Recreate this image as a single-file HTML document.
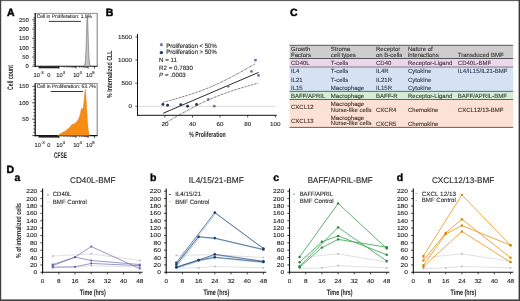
<!DOCTYPE html>
<html><head><meta charset="utf-8"><style>
html,body{margin:0;padding:0;background:#fff;}
body{width:520px;height:301px;overflow:hidden;}
svg{display:block;font-family:"Liberation Sans", sans-serif;will-change:transform;text-rendering:geometricPrecision;}
</style></head><body>
<svg width="520" height="301" viewBox="0 0 520 301">
<rect width="520" height="301" fill="#fff"/>
<text x="6.90" y="15.80" font-size="10.5" fill="#000" font-weight="bold" style="stroke:#000;stroke-width:0.45">A</text>
<text x="105.70" y="15.80" font-size="10.5" fill="#000" font-weight="bold" style="stroke:#000;stroke-width:0.45">B</text>
<text x="289.90" y="15.70" font-size="10.5" fill="#000" font-weight="bold" style="stroke:#000;stroke-width:0.45">C</text>
<text x="6.60" y="172.90" font-size="10.5" fill="#000" font-weight="bold" style="stroke:#000;stroke-width:0.45">D</text>
<line x1="35.20" y1="13.40" x2="97.20" y2="13.40" stroke="#444" stroke-width="0.6" />
<line x1="97.20" y1="13.40" x2="97.20" y2="66.30" stroke="#444" stroke-width="0.7" />
<line x1="35.20" y1="13.10" x2="35.20" y2="66.90" stroke="#111" stroke-width="1.3" />
<line x1="34.60" y1="66.30" x2="97.50" y2="66.30" stroke="#111" stroke-width="1.1" />
<line x1="32.20" y1="66.30" x2="35.20" y2="66.30" stroke="#2a2a2a" stroke-width="0.8" />
<line x1="33.20" y1="64.44" x2="35.20" y2="64.44" stroke="#2a2a2a" stroke-width="0.7" />
<line x1="33.20" y1="62.58" x2="35.20" y2="62.58" stroke="#2a2a2a" stroke-width="0.7" />
<line x1="33.20" y1="60.72" x2="35.20" y2="60.72" stroke="#2a2a2a" stroke-width="0.7" />
<line x1="33.20" y1="58.86" x2="35.20" y2="58.86" stroke="#2a2a2a" stroke-width="0.7" />
<line x1="32.20" y1="57.00" x2="35.20" y2="57.00" stroke="#2a2a2a" stroke-width="0.8" />
<line x1="33.20" y1="55.14" x2="35.20" y2="55.14" stroke="#2a2a2a" stroke-width="0.7" />
<line x1="33.20" y1="53.28" x2="35.20" y2="53.28" stroke="#2a2a2a" stroke-width="0.7" />
<line x1="33.20" y1="51.42" x2="35.20" y2="51.42" stroke="#2a2a2a" stroke-width="0.7" />
<line x1="33.20" y1="49.56" x2="35.20" y2="49.56" stroke="#2a2a2a" stroke-width="0.7" />
<line x1="32.20" y1="47.70" x2="35.20" y2="47.70" stroke="#2a2a2a" stroke-width="0.8" />
<line x1="33.20" y1="45.84" x2="35.20" y2="45.84" stroke="#2a2a2a" stroke-width="0.7" />
<line x1="33.20" y1="43.98" x2="35.20" y2="43.98" stroke="#2a2a2a" stroke-width="0.7" />
<line x1="33.20" y1="42.12" x2="35.20" y2="42.12" stroke="#2a2a2a" stroke-width="0.7" />
<line x1="33.20" y1="40.26" x2="35.20" y2="40.26" stroke="#2a2a2a" stroke-width="0.7" />
<line x1="32.20" y1="38.40" x2="35.20" y2="38.40" stroke="#2a2a2a" stroke-width="0.8" />
<line x1="33.20" y1="36.54" x2="35.20" y2="36.54" stroke="#2a2a2a" stroke-width="0.7" />
<line x1="33.20" y1="34.68" x2="35.20" y2="34.68" stroke="#2a2a2a" stroke-width="0.7" />
<line x1="33.20" y1="32.82" x2="35.20" y2="32.82" stroke="#2a2a2a" stroke-width="0.7" />
<line x1="33.20" y1="30.96" x2="35.20" y2="30.96" stroke="#2a2a2a" stroke-width="0.7" />
<line x1="32.20" y1="29.10" x2="35.20" y2="29.10" stroke="#2a2a2a" stroke-width="0.8" />
<line x1="33.20" y1="27.24" x2="35.20" y2="27.24" stroke="#2a2a2a" stroke-width="0.7" />
<line x1="33.20" y1="25.38" x2="35.20" y2="25.38" stroke="#2a2a2a" stroke-width="0.7" />
<line x1="33.20" y1="23.52" x2="35.20" y2="23.52" stroke="#2a2a2a" stroke-width="0.7" />
<line x1="33.20" y1="21.66" x2="35.20" y2="21.66" stroke="#2a2a2a" stroke-width="0.7" />
<line x1="32.20" y1="19.80" x2="35.20" y2="19.80" stroke="#2a2a2a" stroke-width="0.8" />
<line x1="33.20" y1="17.94" x2="35.20" y2="17.94" stroke="#2a2a2a" stroke-width="0.7" />
<text x="28.90" y="68.30" font-size="5.6" fill="#222" stroke="#222" stroke-width="0.1" text-anchor="end" textLength="3.3" lengthAdjust="spacingAndGlyphs">0</text>
<text x="28.90" y="59.00" font-size="5.6" fill="#222" stroke="#222" stroke-width="0.1" text-anchor="end" textLength="6.6" lengthAdjust="spacingAndGlyphs">50</text>
<text x="28.90" y="49.70" font-size="5.6" fill="#222" stroke="#222" stroke-width="0.1" text-anchor="end" textLength="9.899999999999999" lengthAdjust="spacingAndGlyphs">100</text>
<text x="28.90" y="40.40" font-size="5.6" fill="#222" stroke="#222" stroke-width="0.1" text-anchor="end" textLength="9.899999999999999" lengthAdjust="spacingAndGlyphs">150</text>
<text x="28.90" y="31.10" font-size="5.6" fill="#222" stroke="#222" stroke-width="0.1" text-anchor="end" textLength="9.899999999999999" lengthAdjust="spacingAndGlyphs">200</text>
<text x="28.90" y="21.80" font-size="5.6" fill="#222" stroke="#222" stroke-width="0.1" text-anchor="end" textLength="9.899999999999999" lengthAdjust="spacingAndGlyphs">250</text>
<rect x="38.50" y="66.30" width="20.60" height="2.00" fill="#222" />
<line x1="64.05" y1="66.30" x2="64.05" y2="67.80" stroke="#222" stroke-width="0.6" />
<line x1="67.06" y1="66.30" x2="67.06" y2="67.80" stroke="#222" stroke-width="0.6" />
<line x1="69.20" y1="66.30" x2="69.20" y2="67.80" stroke="#222" stroke-width="0.6" />
<line x1="70.85" y1="66.30" x2="70.85" y2="67.80" stroke="#222" stroke-width="0.6" />
<line x1="72.21" y1="66.30" x2="72.21" y2="67.80" stroke="#222" stroke-width="0.6" />
<line x1="73.35" y1="66.30" x2="73.35" y2="67.80" stroke="#222" stroke-width="0.6" />
<line x1="74.34" y1="66.30" x2="74.34" y2="67.80" stroke="#222" stroke-width="0.6" />
<line x1="75.22" y1="66.30" x2="75.22" y2="67.80" stroke="#222" stroke-width="0.6" />
<line x1="79.64" y1="66.30" x2="79.64" y2="67.80" stroke="#222" stroke-width="0.6" />
<line x1="81.77" y1="66.30" x2="81.77" y2="67.80" stroke="#222" stroke-width="0.6" />
<line x1="83.28" y1="66.30" x2="83.28" y2="67.80" stroke="#222" stroke-width="0.6" />
<line x1="84.46" y1="66.30" x2="84.46" y2="67.80" stroke="#222" stroke-width="0.6" />
<line x1="85.42" y1="66.30" x2="85.42" y2="67.80" stroke="#222" stroke-width="0.6" />
<line x1="86.23" y1="66.30" x2="86.23" y2="67.80" stroke="#222" stroke-width="0.6" />
<line x1="86.93" y1="66.30" x2="86.93" y2="67.80" stroke="#222" stroke-width="0.6" />
<line x1="87.55" y1="66.30" x2="87.55" y2="67.80" stroke="#222" stroke-width="0.6" />
<line x1="58.90" y1="66.30" x2="58.90" y2="68.50" stroke="#111" stroke-width="0.8" />
<line x1="76.00" y1="66.30" x2="76.00" y2="68.50" stroke="#111" stroke-width="0.8" />
<line x1="88.10" y1="66.30" x2="88.10" y2="68.50" stroke="#111" stroke-width="0.8" />
<line x1="94.40" y1="66.30" x2="94.40" y2="68.50" stroke="#111" stroke-width="0.8" />
<text x="33.60" y="76.50" font-size="5.7" fill="#222" stroke="#222" stroke-width="0.1">10<tspan font-size="4.3" dy="-2.4">-3</tspan></text>
<text x="47.20" y="76.50" font-size="5.7" fill="#222" stroke="#222" stroke-width="0.1">0</text>
<text x="56.30" y="76.50" font-size="5.7" fill="#222" stroke="#222" stroke-width="0.1">10<tspan font-size="4.3" dy="-2.4">3</tspan></text>
<text x="73.20" y="76.50" font-size="5.7" fill="#222" stroke="#222" stroke-width="0.1">10<tspan font-size="4.3" dy="-2.4">4</tspan></text>
<text x="86.00" y="76.50" font-size="5.7" fill="#222" stroke="#222" stroke-width="0.1">10<tspan font-size="4.3" dy="-2.4">5</tspan></text>
<text x="36.70" y="17.90" font-size="5.2" fill="#222" stroke="#222" stroke-width="0.08" textLength="55.2" lengthAdjust="spacingAndGlyphs">Cell in Proliferation: 1.5%</text>
<line x1="48.80" y1="21.40" x2="81.00" y2="21.40" stroke="#222" stroke-width="0.9" />
<polygon points="83.60,66.30 84.60,65.20 85.30,62.00 85.90,52.00 86.40,38.00 86.80,24.00 87.10,16.00 87.40,15.30 87.70,20.00 88.10,33.00 88.60,50.00 89.20,60.00 89.90,64.80 90.80,66.30" stroke="#555" stroke-width="0.5" fill="#c4c4c8" />
<line x1="35.20" y1="83.50" x2="97.20" y2="83.50" stroke="#444" stroke-width="0.6" />
<line x1="97.20" y1="83.50" x2="97.20" y2="135.60" stroke="#444" stroke-width="0.7" />
<line x1="35.20" y1="83.20" x2="35.20" y2="136.20" stroke="#111" stroke-width="1.3" />
<line x1="34.60" y1="135.60" x2="97.50" y2="135.60" stroke="#111" stroke-width="1.1" />
<line x1="32.20" y1="135.60" x2="35.20" y2="135.60" stroke="#2a2a2a" stroke-width="0.8" />
<line x1="33.20" y1="132.32" x2="35.20" y2="132.32" stroke="#2a2a2a" stroke-width="0.7" />
<line x1="33.20" y1="129.04" x2="35.20" y2="129.04" stroke="#2a2a2a" stroke-width="0.7" />
<line x1="33.20" y1="125.76" x2="35.20" y2="125.76" stroke="#2a2a2a" stroke-width="0.7" />
<line x1="33.20" y1="122.48" x2="35.20" y2="122.48" stroke="#2a2a2a" stroke-width="0.7" />
<line x1="32.20" y1="119.20" x2="35.20" y2="119.20" stroke="#2a2a2a" stroke-width="0.8" />
<line x1="33.20" y1="115.92" x2="35.20" y2="115.92" stroke="#2a2a2a" stroke-width="0.7" />
<line x1="33.20" y1="112.64" x2="35.20" y2="112.64" stroke="#2a2a2a" stroke-width="0.7" />
<line x1="33.20" y1="109.36" x2="35.20" y2="109.36" stroke="#2a2a2a" stroke-width="0.7" />
<line x1="33.20" y1="106.08" x2="35.20" y2="106.08" stroke="#2a2a2a" stroke-width="0.7" />
<line x1="32.20" y1="102.80" x2="35.20" y2="102.80" stroke="#2a2a2a" stroke-width="0.8" />
<line x1="33.20" y1="99.52" x2="35.20" y2="99.52" stroke="#2a2a2a" stroke-width="0.7" />
<line x1="33.20" y1="96.24" x2="35.20" y2="96.24" stroke="#2a2a2a" stroke-width="0.7" />
<line x1="33.20" y1="92.96" x2="35.20" y2="92.96" stroke="#2a2a2a" stroke-width="0.7" />
<line x1="33.20" y1="89.68" x2="35.20" y2="89.68" stroke="#2a2a2a" stroke-width="0.7" />
<line x1="32.20" y1="86.40" x2="35.20" y2="86.40" stroke="#2a2a2a" stroke-width="0.8" />
<text x="28.90" y="121.20" font-size="5.6" fill="#222" stroke="#222" stroke-width="0.1" text-anchor="end" textLength="6.6" lengthAdjust="spacingAndGlyphs">50</text>
<text x="28.90" y="104.80" font-size="5.6" fill="#222" stroke="#222" stroke-width="0.1" text-anchor="end" textLength="9.899999999999999" lengthAdjust="spacingAndGlyphs">100</text>
<text x="28.90" y="88.40" font-size="5.6" fill="#222" stroke="#222" stroke-width="0.1" text-anchor="end" textLength="9.899999999999999" lengthAdjust="spacingAndGlyphs">150</text>
<rect x="38.50" y="135.60" width="20.60" height="2.00" fill="#222" />
<line x1="64.05" y1="135.60" x2="64.05" y2="137.10" stroke="#222" stroke-width="0.6" />
<line x1="67.06" y1="135.60" x2="67.06" y2="137.10" stroke="#222" stroke-width="0.6" />
<line x1="69.20" y1="135.60" x2="69.20" y2="137.10" stroke="#222" stroke-width="0.6" />
<line x1="70.85" y1="135.60" x2="70.85" y2="137.10" stroke="#222" stroke-width="0.6" />
<line x1="72.21" y1="135.60" x2="72.21" y2="137.10" stroke="#222" stroke-width="0.6" />
<line x1="73.35" y1="135.60" x2="73.35" y2="137.10" stroke="#222" stroke-width="0.6" />
<line x1="74.34" y1="135.60" x2="74.34" y2="137.10" stroke="#222" stroke-width="0.6" />
<line x1="75.22" y1="135.60" x2="75.22" y2="137.10" stroke="#222" stroke-width="0.6" />
<line x1="79.64" y1="135.60" x2="79.64" y2="137.10" stroke="#222" stroke-width="0.6" />
<line x1="81.77" y1="135.60" x2="81.77" y2="137.10" stroke="#222" stroke-width="0.6" />
<line x1="83.28" y1="135.60" x2="83.28" y2="137.10" stroke="#222" stroke-width="0.6" />
<line x1="84.46" y1="135.60" x2="84.46" y2="137.10" stroke="#222" stroke-width="0.6" />
<line x1="85.42" y1="135.60" x2="85.42" y2="137.10" stroke="#222" stroke-width="0.6" />
<line x1="86.23" y1="135.60" x2="86.23" y2="137.10" stroke="#222" stroke-width="0.6" />
<line x1="86.93" y1="135.60" x2="86.93" y2="137.10" stroke="#222" stroke-width="0.6" />
<line x1="87.55" y1="135.60" x2="87.55" y2="137.10" stroke="#222" stroke-width="0.6" />
<line x1="58.90" y1="135.60" x2="58.90" y2="137.80" stroke="#111" stroke-width="0.8" />
<line x1="76.00" y1="135.60" x2="76.00" y2="137.80" stroke="#111" stroke-width="0.8" />
<line x1="88.10" y1="135.60" x2="88.10" y2="137.80" stroke="#111" stroke-width="0.8" />
<line x1="94.40" y1="135.60" x2="94.40" y2="137.80" stroke="#111" stroke-width="0.8" />
<text x="34.50" y="146.50" font-size="5.7" fill="#222" stroke="#222" stroke-width="0.1">10<tspan font-size="4.3" dy="-2.4">-3</tspan></text>
<text x="47.20" y="146.50" font-size="5.7" fill="#222" stroke="#222" stroke-width="0.1">0</text>
<text x="56.30" y="146.50" font-size="5.7" fill="#222" stroke="#222" stroke-width="0.1">10<tspan font-size="4.3" dy="-2.4">3</tspan></text>
<text x="73.20" y="146.50" font-size="5.7" fill="#222" stroke="#222" stroke-width="0.1">10<tspan font-size="4.3" dy="-2.4">4</tspan></text>
<text x="86.00" y="146.50" font-size="5.7" fill="#222" stroke="#222" stroke-width="0.1">10<tspan font-size="4.3" dy="-2.4">5</tspan></text>
<text x="36.70" y="87.90" font-size="5.2" fill="#222" stroke="#222" stroke-width="0.08" textLength="59.0" lengthAdjust="spacingAndGlyphs">Cell in Proliferation: 63.7%</text>
<line x1="50.80" y1="91.50" x2="83.00" y2="91.50" stroke="#222" stroke-width="0.9" />
<polygon points="57.50,135.60 58.50,134.90 60.50,133.80 62.50,132.60 64.50,131.40 66.60,130.00 68.00,128.80 69.50,127.60 70.60,126.40 71.50,125.00 72.40,124.00 73.30,124.60 74.20,123.60 75.00,123.20 75.90,122.80 76.80,121.60 77.60,120.60 78.30,119.50 79.20,117.40 80.10,114.90 80.90,111.00 81.70,107.90 82.30,109.00 82.90,110.20 83.50,105.50 84.10,101.00 84.70,94.00 85.20,89.30 85.80,95.00 86.40,103.00 87.00,114.00 87.60,124.00 88.40,131.00 89.40,135.60" stroke="#d87400" stroke-width="0.4" fill="#f78c14" />
<text x="13.10" y="89.90" font-size="8.0" fill="#222" font-weight="bold" textLength="24.8" lengthAdjust="spacingAndGlyphs" transform="rotate(-90 13.10 89.90)">Cell count</text>
<text x="54.00" y="157.90" font-size="8.1" fill="#222" font-weight="bold" textLength="13.0" lengthAdjust="spacingAndGlyphs">CFSE</text>
<line x1="137.50" y1="34.00" x2="137.50" y2="115.80" stroke="#111" stroke-width="1.0" />
<line x1="137.00" y1="115.30" x2="276.80" y2="115.30" stroke="#111" stroke-width="1.0" />
<line x1="135.30" y1="106.30" x2="137.50" y2="106.30" stroke="#111" stroke-width="0.7" />
<text x="132.00" y="108.40" font-size="5.8" fill="#222" stroke="#222" stroke-width="0.1" text-anchor="end" textLength="3.5" lengthAdjust="spacingAndGlyphs">0</text>
<line x1="135.30" y1="83.20" x2="137.50" y2="83.20" stroke="#111" stroke-width="0.7" />
<text x="132.00" y="85.30" font-size="5.8" fill="#222" stroke="#222" stroke-width="0.1" text-anchor="end" textLength="10.5" lengthAdjust="spacingAndGlyphs">500</text>
<line x1="135.30" y1="60.10" x2="137.50" y2="60.10" stroke="#111" stroke-width="0.7" />
<text x="132.00" y="62.20" font-size="5.8" fill="#222" stroke="#222" stroke-width="0.1" text-anchor="end" textLength="14.0" lengthAdjust="spacingAndGlyphs">1000</text>
<line x1="135.30" y1="37.00" x2="137.50" y2="37.00" stroke="#111" stroke-width="0.7" />
<text x="132.00" y="39.10" font-size="5.8" fill="#222" stroke="#222" stroke-width="0.1" text-anchor="end" textLength="14.0" lengthAdjust="spacingAndGlyphs">1500</text>
<line x1="164.90" y1="115.30" x2="164.90" y2="117.50" stroke="#111" stroke-width="0.7" />
<text x="164.90" y="126.00" font-size="5.8" fill="#222" stroke="#222" stroke-width="0.1" text-anchor="middle" textLength="7.0" lengthAdjust="spacingAndGlyphs">20</text>
<line x1="192.50" y1="115.30" x2="192.50" y2="117.50" stroke="#111" stroke-width="0.7" />
<text x="192.50" y="126.00" font-size="5.8" fill="#222" stroke="#222" stroke-width="0.1" text-anchor="middle" textLength="7.0" lengthAdjust="spacingAndGlyphs">40</text>
<line x1="220.10" y1="115.30" x2="220.10" y2="117.50" stroke="#111" stroke-width="0.7" />
<text x="220.10" y="126.00" font-size="5.8" fill="#222" stroke="#222" stroke-width="0.1" text-anchor="middle" textLength="7.0" lengthAdjust="spacingAndGlyphs">60</text>
<line x1="247.70" y1="115.30" x2="247.70" y2="117.50" stroke="#111" stroke-width="0.7" />
<text x="247.70" y="126.00" font-size="5.8" fill="#222" stroke="#222" stroke-width="0.1" text-anchor="middle" textLength="7.0" lengthAdjust="spacingAndGlyphs">80</text>
<line x1="275.30" y1="115.30" x2="275.30" y2="117.50" stroke="#111" stroke-width="0.7" />
<text x="275.30" y="126.00" font-size="5.8" fill="#222" stroke="#222" stroke-width="0.1" text-anchor="middle" textLength="10.5" lengthAdjust="spacingAndGlyphs">100</text>
<line x1="138.20" y1="106.30" x2="275.50" y2="106.30" stroke="#c8c8c8" stroke-width="0.7" />
<text x="189.30" y="136.60" font-size="7.6" fill="#222" font-weight="bold" textLength="36.4" lengthAdjust="spacingAndGlyphs">% Proliferation</text>
<text x="112.00" y="98.00" font-size="7.4" fill="#222" font-weight="bold" textLength="47.5" lengthAdjust="spacingAndGlyphs" transform="rotate(-90 112.00 98.00)">% Internalized CLL</text>
<circle cx="161.40" cy="44.70" r="1.6" fill="#7a78b0" />
<text x="166.20" y="47.90" font-size="6.3" fill="#222" stroke="#222" stroke-width="0.1" textLength="50.5" lengthAdjust="spacingAndGlyphs">Proliferation &lt; 50%</text>
<circle cx="161.40" cy="52.60" r="1.7" fill="#1d3b66" />
<text x="166.20" y="54.00" font-size="6.3" fill="#222" stroke="#222" stroke-width="0.1" textLength="50.5" lengthAdjust="spacingAndGlyphs">Proliferation &gt; 50%</text>
<text x="159.10" y="61.90" font-size="6.2" fill="#222" stroke="#222" stroke-width="0.1">N = 11</text>
<text x="159.10" y="69.60" font-size="6.2" fill="#222" stroke="#222" stroke-width="0.1" textLength="33.9" lengthAdjust="spacingAndGlyphs">R2 = 0.7830</text>
<text x="159.10" y="76.50" font-size="6.2" fill="#222" stroke="#222" stroke-width="0.1"><tspan font-style="italic">P</tspan> = .0003</text>
<line x1="163.10" y1="113.30" x2="258.60" y2="72.40" stroke="#222" stroke-width="0.95" />
<polyline points="163.10,102.34 166.18,101.50 169.26,100.65 172.34,99.78 175.42,98.91 178.50,98.02 181.58,97.10 184.66,96.17 187.74,95.22 190.82,94.23 193.90,93.21 196.98,92.16 200.06,91.07 203.14,89.93 206.22,88.74 209.30,87.49 212.38,86.19 215.46,84.84 218.54,83.43 221.62,81.97 224.70,80.46 227.78,78.91 230.86,77.31 233.94,75.68 237.02,74.02 240.10,72.34 243.18,70.62 246.26,68.89 249.34,67.14 252.42,65.38 255.50,63.60" stroke="#3a3a3a" stroke-width="0.95" fill="none" stroke-dasharray="0.75 0.75"/>
<polyline points="163.50,124.03 166.64,122.19 169.79,120.37 172.93,118.56 176.07,116.77 179.22,114.99 182.36,113.23 185.50,111.50 188.65,109.79 191.79,108.11 194.93,106.47 198.08,104.86 201.22,103.31 204.36,101.80 207.51,100.34 210.65,98.94 213.79,97.60 216.94,96.31 220.08,95.09 223.22,93.91 226.37,92.78 229.51,91.70 232.65,90.65 235.80,89.64 238.94,88.67 242.08,87.71 245.23,86.78 248.37,85.87 251.51,84.97 254.66,84.09 257.80,83.22" stroke="#3a3a3a" stroke-width="0.95" fill="none" stroke-dasharray="0.75 0.75"/>
<circle cx="208.30" cy="99.40" r="1.35" fill="#70709c" />
<circle cx="214.30" cy="106.20" r="1.35" fill="#70709c" />
<circle cx="228.20" cy="86.30" r="1.35" fill="#70709c" />
<circle cx="251.50" cy="71.40" r="1.35" fill="#70709c" />
<circle cx="255.50" cy="60.20" r="1.35" fill="#70709c" />
<circle cx="258.50" cy="75.40" r="1.35" fill="#70709c" />
<circle cx="162.90" cy="104.40" r="1.45" fill="#1d3557" />
<circle cx="167.60" cy="105.30" r="1.45" fill="#1d3557" />
<circle cx="180.80" cy="104.80" r="1.45" fill="#1d3557" />
<circle cx="187.60" cy="106.20" r="1.45" fill="#1d3557" />
<circle cx="196.60" cy="104.50" r="1.45" fill="#1d3557" />
<rect x="289.50" y="45.60" width="223.70" height="12.60" fill="#cdcdcd" />
<rect x="289.50" y="58.90" width="223.70" height="7.60" fill="#ecd6ea" />
<rect x="289.50" y="67.40" width="223.70" height="23.60" fill="#d6e1f1" />
<rect x="289.50" y="91.80" width="223.70" height="7.30" fill="#d6ecd6" />
<rect x="289.50" y="99.90" width="223.70" height="27.10" fill="#fce2d4" />
<line x1="289.50" y1="45.30" x2="513.20" y2="45.30" stroke="#444" stroke-width="0.9" />
<line x1="289.50" y1="58.50" x2="513.20" y2="58.50" stroke="#444" stroke-width="0.9" />
<line x1="289.50" y1="67.00" x2="513.20" y2="67.00" stroke="#6a6070" stroke-width="0.9" />
<line x1="289.50" y1="91.40" x2="513.20" y2="91.40" stroke="#4a5a62" stroke-width="0.9" />
<line x1="289.50" y1="99.50" x2="513.20" y2="99.50" stroke="#4a5a4a" stroke-width="0.9" />
<line x1="289.50" y1="127.40" x2="513.20" y2="127.40" stroke="#5a4a48" stroke-width="0.9" />
<text x="291.00" y="51.00" font-size="6.0" fill="#333" stroke="#333" stroke-width="0.1">Growth</text>
<text x="291.00" y="57.00" font-size="6.0" fill="#333" stroke="#333" stroke-width="0.1">Factors</text>
<text x="330.80" y="51.00" font-size="6.0" fill="#333" stroke="#333" stroke-width="0.1">Stroma</text>
<text x="330.80" y="57.00" font-size="6.0" fill="#333" stroke="#333" stroke-width="0.1">cell types</text>
<text x="376.00" y="51.00" font-size="6.0" fill="#333" stroke="#333" stroke-width="0.1">Receptor</text>
<text x="376.00" y="57.00" font-size="6.0" fill="#333" stroke="#333" stroke-width="0.1">on B-cells</text>
<text x="408.00" y="51.00" font-size="6.0" fill="#333" stroke="#333" stroke-width="0.1">Nature of</text>
<text x="408.00" y="57.00" font-size="6.0" fill="#333" stroke="#333" stroke-width="0.1">interactions</text>
<text x="457.80" y="57.00" font-size="6.0" fill="#333" stroke="#333" stroke-width="0.1">Transduced BMF</text>
<text x="291.00" y="64.60" font-size="6.0" fill="#4a2f4c" stroke="#4a2f4c" stroke-width="0.1">CD40L</text>
<text x="330.80" y="64.60" font-size="6.0" fill="#4a2f4c" stroke="#4a2f4c" stroke-width="0.1">T-cells</text>
<text x="376.00" y="65.00" font-size="6.0" fill="#4a2f4c" stroke="#4a2f4c" stroke-width="0.1">CD40</text>
<text x="408.00" y="64.60" font-size="6.0" fill="#4a2f4c" stroke="#4a2f4c" stroke-width="0.1">Receptor-Ligand</text>
<text x="457.80" y="64.60" font-size="6.0" fill="#4a2f4c" stroke="#4a2f4c" stroke-width="0.1">CD40L-BMF</text>
<text x="291.00" y="73.40" font-size="6.0" fill="#2c3b55" stroke="#2c3b55" stroke-width="0.1">IL4</text>
<text x="330.80" y="73.40" font-size="6.0" fill="#2c3b55" stroke="#2c3b55" stroke-width="0.1">T-cells</text>
<text x="376.00" y="73.40" font-size="6.0" fill="#2c3b55" stroke="#2c3b55" stroke-width="0.1">IL4R</text>
<text x="408.00" y="73.40" font-size="6.0" fill="#2c3b55" stroke="#2c3b55" stroke-width="0.1">Cytokine</text>
<text x="291.00" y="82.10" font-size="6.0" fill="#2c3b55" stroke="#2c3b55" stroke-width="0.1">IL21</text>
<text x="330.80" y="82.10" font-size="6.0" fill="#2c3b55" stroke="#2c3b55" stroke-width="0.1">T-cells</text>
<text x="376.00" y="82.10" font-size="6.0" fill="#2c3b55" stroke="#2c3b55" stroke-width="0.1">IL21R</text>
<text x="408.00" y="82.10" font-size="6.0" fill="#2c3b55" stroke="#2c3b55" stroke-width="0.1">Cytokine</text>
<text x="291.00" y="90.20" font-size="6.0" fill="#2c3b55" stroke="#2c3b55" stroke-width="0.1">IL15</text>
<text x="330.80" y="90.20" font-size="6.0" fill="#2c3b55" stroke="#2c3b55" stroke-width="0.1">Macrophage</text>
<text x="376.00" y="90.20" font-size="6.0" fill="#2c3b55" stroke="#2c3b55" stroke-width="0.1">IL15R</text>
<text x="408.00" y="90.20" font-size="6.0" fill="#2c3b55" stroke="#2c3b55" stroke-width="0.1">Cytokine</text>
<text x="457.80" y="73.40" font-size="6.0" fill="#2c3b55" stroke="#2c3b55" stroke-width="0.1">IL4/IL15/IL21-BMF</text>
<text x="291.00" y="97.60" font-size="6.0" fill="#2f3f2f" stroke="#2f3f2f" stroke-width="0.1">BAFF/APRIL</text>
<text x="330.80" y="97.60" font-size="6.0" fill="#2f3f2f" stroke="#2f3f2f" stroke-width="0.1">Macrophage</text>
<text x="376.00" y="97.60" font-size="6.0" fill="#2f3f2f" stroke="#2f3f2f" stroke-width="0.1">BAFF-R</text>
<text x="408.00" y="97.60" font-size="6.0" fill="#2f3f2f" stroke="#2f3f2f" stroke-width="0.1">Receptor-Ligand</text>
<text x="457.80" y="97.60" font-size="6.0" fill="#2f3f2f" stroke="#2f3f2f" stroke-width="0.1">BAFF/APRIL-BMF</text>
<text x="291.00" y="109.20" font-size="6.0" fill="#3e2c26" stroke="#3e2c26" stroke-width="0.1">CXCL12</text>
<text x="330.80" y="105.80" font-size="6.0" fill="#3e2c26" stroke="#3e2c26" stroke-width="0.1">Macrophage</text>
<text x="330.80" y="111.60" font-size="6.0" fill="#3e2c26" stroke="#3e2c26" stroke-width="0.1">Nurse-like cells</text>
<text x="376.00" y="112.00" font-size="6.0" fill="#3e2c26" stroke="#3e2c26" stroke-width="0.1">CXCR4</text>
<text x="408.00" y="112.00" font-size="6.0" fill="#3e2c26" stroke="#3e2c26" stroke-width="0.1">Chemokine</text>
<text x="457.80" y="112.20" font-size="6.0" fill="#3e2c26" stroke="#3e2c26" stroke-width="0.1">CXCL12/13-BMF</text>
<text x="291.00" y="123.00" font-size="6.0" fill="#3e2c26" stroke="#3e2c26" stroke-width="0.1">CXCL13</text>
<text x="330.80" y="119.60" font-size="6.0" fill="#3e2c26" stroke="#3e2c26" stroke-width="0.1">Macrophage</text>
<text x="330.80" y="125.40" font-size="6.0" fill="#3e2c26" stroke="#3e2c26" stroke-width="0.1">Nurse-like cells</text>
<text x="376.00" y="125.80" font-size="6.0" fill="#3e2c26" stroke="#3e2c26" stroke-width="0.1">CXCR5</text>
<text x="408.00" y="125.80" font-size="6.0" fill="#3e2c26" stroke="#3e2c26" stroke-width="0.1">Chemokine</text>
<line x1="42.60" y1="188.43" x2="42.60" y2="272.90" stroke="#111" stroke-width="1.1" />
<line x1="42.00" y1="272.30" x2="142.60" y2="272.30" stroke="#111" stroke-width="1.1" />
<line x1="40.40" y1="272.30" x2="42.60" y2="272.30" stroke="#111" stroke-width="0.8" />
<text x="37.30" y="274.30" font-size="5.7" fill="#222" stroke="#222" stroke-width="0.1" text-anchor="end" textLength="3.7" lengthAdjust="spacingAndGlyphs">0</text>
<line x1="40.40" y1="264.93" x2="42.60" y2="264.93" stroke="#111" stroke-width="0.8" />
<text x="37.30" y="266.93" font-size="5.7" fill="#222" stroke="#222" stroke-width="0.1" text-anchor="end" textLength="7.4" lengthAdjust="spacingAndGlyphs">20</text>
<line x1="40.40" y1="257.56" x2="42.60" y2="257.56" stroke="#111" stroke-width="0.8" />
<text x="37.30" y="259.56" font-size="5.7" fill="#222" stroke="#222" stroke-width="0.1" text-anchor="end" textLength="7.4" lengthAdjust="spacingAndGlyphs">40</text>
<line x1="40.40" y1="250.19" x2="42.60" y2="250.19" stroke="#111" stroke-width="0.8" />
<text x="37.30" y="252.19" font-size="5.7" fill="#222" stroke="#222" stroke-width="0.1" text-anchor="end" textLength="7.4" lengthAdjust="spacingAndGlyphs">60</text>
<line x1="40.40" y1="242.82" x2="42.60" y2="242.82" stroke="#111" stroke-width="0.8" />
<text x="37.30" y="244.82" font-size="5.7" fill="#222" stroke="#222" stroke-width="0.1" text-anchor="end" textLength="7.4" lengthAdjust="spacingAndGlyphs">80</text>
<line x1="40.40" y1="235.45" x2="42.60" y2="235.45" stroke="#111" stroke-width="0.8" />
<text x="37.30" y="237.45" font-size="5.7" fill="#222" stroke="#222" stroke-width="0.1" text-anchor="end" textLength="11.100000000000001" lengthAdjust="spacingAndGlyphs">100</text>
<line x1="40.40" y1="228.08" x2="42.60" y2="228.08" stroke="#111" stroke-width="0.8" />
<text x="37.30" y="230.08" font-size="5.7" fill="#222" stroke="#222" stroke-width="0.1" text-anchor="end" textLength="11.100000000000001" lengthAdjust="spacingAndGlyphs">120</text>
<line x1="40.40" y1="220.71" x2="42.60" y2="220.71" stroke="#111" stroke-width="0.8" />
<text x="37.30" y="222.71" font-size="5.7" fill="#222" stroke="#222" stroke-width="0.1" text-anchor="end" textLength="11.100000000000001" lengthAdjust="spacingAndGlyphs">140</text>
<line x1="40.40" y1="213.34" x2="42.60" y2="213.34" stroke="#111" stroke-width="0.8" />
<text x="37.30" y="215.34" font-size="5.7" fill="#222" stroke="#222" stroke-width="0.1" text-anchor="end" textLength="11.100000000000001" lengthAdjust="spacingAndGlyphs">160</text>
<line x1="40.40" y1="205.97" x2="42.60" y2="205.97" stroke="#111" stroke-width="0.8" />
<text x="37.30" y="207.97" font-size="5.7" fill="#222" stroke="#222" stroke-width="0.1" text-anchor="end" textLength="11.100000000000001" lengthAdjust="spacingAndGlyphs">180</text>
<line x1="40.40" y1="198.60" x2="42.60" y2="198.60" stroke="#111" stroke-width="0.8" />
<text x="37.30" y="200.60" font-size="5.7" fill="#222" stroke="#222" stroke-width="0.1" text-anchor="end" textLength="11.100000000000001" lengthAdjust="spacingAndGlyphs">200</text>
<line x1="40.40" y1="191.23" x2="42.60" y2="191.23" stroke="#111" stroke-width="0.8" />
<text x="37.30" y="193.23" font-size="5.7" fill="#222" stroke="#222" stroke-width="0.1" text-anchor="end" textLength="11.100000000000001" lengthAdjust="spacingAndGlyphs">220</text>
<line x1="42.60" y1="272.30" x2="42.60" y2="274.30" stroke="#111" stroke-width="0.8" />
<text x="42.60" y="283.40" font-size="5.7" fill="#222" stroke="#222" stroke-width="0.1" text-anchor="middle" textLength="3.6" lengthAdjust="spacingAndGlyphs">0</text>
<line x1="58.80" y1="272.30" x2="58.80" y2="274.30" stroke="#111" stroke-width="0.8" />
<text x="58.80" y="283.40" font-size="5.7" fill="#222" stroke="#222" stroke-width="0.1" text-anchor="middle" textLength="3.6" lengthAdjust="spacingAndGlyphs">8</text>
<line x1="75.00" y1="272.30" x2="75.00" y2="274.30" stroke="#111" stroke-width="0.8" />
<text x="75.00" y="283.40" font-size="5.7" fill="#222" stroke="#222" stroke-width="0.1" text-anchor="middle" textLength="7.2" lengthAdjust="spacingAndGlyphs">16</text>
<line x1="91.20" y1="272.30" x2="91.20" y2="274.30" stroke="#111" stroke-width="0.8" />
<text x="91.20" y="283.40" font-size="5.7" fill="#222" stroke="#222" stroke-width="0.1" text-anchor="middle" textLength="7.2" lengthAdjust="spacingAndGlyphs">24</text>
<line x1="107.40" y1="272.30" x2="107.40" y2="274.30" stroke="#111" stroke-width="0.8" />
<text x="107.40" y="283.40" font-size="5.7" fill="#222" stroke="#222" stroke-width="0.1" text-anchor="middle" textLength="7.2" lengthAdjust="spacingAndGlyphs">32</text>
<line x1="123.60" y1="272.30" x2="123.60" y2="274.30" stroke="#111" stroke-width="0.8" />
<text x="123.60" y="283.40" font-size="5.7" fill="#222" stroke="#222" stroke-width="0.1" text-anchor="middle" textLength="7.2" lengthAdjust="spacingAndGlyphs">40</text>
<line x1="139.80" y1="272.30" x2="139.80" y2="274.30" stroke="#111" stroke-width="0.8" />
<text x="139.80" y="283.40" font-size="5.7" fill="#222" stroke="#222" stroke-width="0.1" text-anchor="middle" textLength="7.2" lengthAdjust="spacingAndGlyphs">48</text>
<text x="70.00" y="183.00" font-size="8.2" fill="#222" stroke="#222" stroke-width="0.1" textLength="45.599999999999994" lengthAdjust="spacingAndGlyphs">CD40L-BMF</text>
<text x="79.80" y="294.80" font-size="7.9" fill="#222" font-weight="bold" textLength="25.9" lengthAdjust="spacingAndGlyphs">Time (hrs)</text>
<line x1="46.80" y1="195.00" x2="49.00" y2="195.00" stroke="#7676b8" stroke-width="0.8" />
<text x="52.80" y="196.40" font-size="6.2" fill="#222" stroke="#222" stroke-width="0.1" textLength="18.5" lengthAdjust="spacingAndGlyphs">CD40L</text>
<line x1="46.80" y1="202.00" x2="49.00" y2="202.00" stroke="#c8c8c8" stroke-width="0.8" />
<text x="52.80" y="203.60" font-size="6.2" fill="#2a2a2a" stroke="#2a2a2a" stroke-width="0.1" textLength="34.0" lengthAdjust="spacingAndGlyphs">BMF Control</text>
<polyline points="52.73,256.09 91.20,253.88 139.80,260.51" stroke="#d6d6de" stroke-width="0.75" fill="none" />
<rect x="51.93" y="255.29" width="1.60" height="1.60" fill="#b4b4bc" />
<rect x="90.40" y="253.07" width="1.60" height="1.60" fill="#b4b4bc" />
<rect x="139.00" y="259.71" width="1.60" height="1.60" fill="#b4b4bc" />
<polyline points="52.73,267.88 75.00,267.14 91.20,265.67 139.80,267.14" stroke="#d6d6de" stroke-width="0.75" fill="none" />
<rect x="51.93" y="267.08" width="1.60" height="1.60" fill="#b4b4bc" />
<rect x="74.20" y="266.34" width="1.60" height="1.60" fill="#b4b4bc" />
<rect x="90.40" y="264.87" width="1.60" height="1.60" fill="#b4b4bc" />
<rect x="139.00" y="266.34" width="1.60" height="1.60" fill="#b4b4bc" />
<polyline points="52.73,264.56 75.00,257.19 91.20,246.51 139.80,268.62" stroke="#7676b8" stroke-width="0.75" fill="none" stroke-linejoin="round"/>
<polyline points="52.73,265.67 75.00,257.19 91.20,260.51 139.80,264.56" stroke="#7676b8" stroke-width="0.75" fill="none" stroke-linejoin="round"/>
<polyline points="52.73,267.14 75.00,266.77 91.20,263.46 139.80,265.67" stroke="#7676b8" stroke-width="0.75" fill="none" stroke-linejoin="round"/>
<circle cx="52.73" cy="264.56" r="1.1" fill="#6060a8" />
<circle cx="75.00" cy="257.19" r="1.1" fill="#6060a8" />
<circle cx="91.20" cy="246.51" r="1.1" fill="#6060a8" />
<circle cx="139.80" cy="268.62" r="1.1" fill="#6060a8" />
<circle cx="52.73" cy="265.67" r="1.1" fill="#6060a8" />
<circle cx="75.00" cy="257.19" r="1.1" fill="#6060a8" />
<circle cx="91.20" cy="260.51" r="1.1" fill="#6060a8" />
<circle cx="139.80" cy="264.56" r="1.1" fill="#6060a8" />
<circle cx="52.73" cy="267.14" r="1.1" fill="#6060a8" />
<circle cx="75.00" cy="266.77" r="1.1" fill="#6060a8" />
<circle cx="91.20" cy="263.46" r="1.1" fill="#6060a8" />
<circle cx="139.80" cy="265.67" r="1.1" fill="#6060a8" />
<line x1="166.20" y1="188.43" x2="166.20" y2="272.90" stroke="#111" stroke-width="1.1" />
<line x1="165.60" y1="272.30" x2="266.20" y2="272.30" stroke="#111" stroke-width="1.1" />
<line x1="164.00" y1="272.30" x2="166.20" y2="272.30" stroke="#111" stroke-width="0.8" />
<text x="160.90" y="274.30" font-size="5.7" fill="#222" stroke="#222" stroke-width="0.1" text-anchor="end" textLength="3.7" lengthAdjust="spacingAndGlyphs">0</text>
<line x1="164.00" y1="264.93" x2="166.20" y2="264.93" stroke="#111" stroke-width="0.8" />
<text x="160.90" y="266.93" font-size="5.7" fill="#222" stroke="#222" stroke-width="0.1" text-anchor="end" textLength="7.4" lengthAdjust="spacingAndGlyphs">20</text>
<line x1="164.00" y1="257.56" x2="166.20" y2="257.56" stroke="#111" stroke-width="0.8" />
<text x="160.90" y="259.56" font-size="5.7" fill="#222" stroke="#222" stroke-width="0.1" text-anchor="end" textLength="7.4" lengthAdjust="spacingAndGlyphs">40</text>
<line x1="164.00" y1="250.19" x2="166.20" y2="250.19" stroke="#111" stroke-width="0.8" />
<text x="160.90" y="252.19" font-size="5.7" fill="#222" stroke="#222" stroke-width="0.1" text-anchor="end" textLength="7.4" lengthAdjust="spacingAndGlyphs">60</text>
<line x1="164.00" y1="242.82" x2="166.20" y2="242.82" stroke="#111" stroke-width="0.8" />
<text x="160.90" y="244.82" font-size="5.7" fill="#222" stroke="#222" stroke-width="0.1" text-anchor="end" textLength="7.4" lengthAdjust="spacingAndGlyphs">80</text>
<line x1="164.00" y1="235.45" x2="166.20" y2="235.45" stroke="#111" stroke-width="0.8" />
<text x="160.90" y="237.45" font-size="5.7" fill="#222" stroke="#222" stroke-width="0.1" text-anchor="end" textLength="11.100000000000001" lengthAdjust="spacingAndGlyphs">100</text>
<line x1="164.00" y1="228.08" x2="166.20" y2="228.08" stroke="#111" stroke-width="0.8" />
<text x="160.90" y="230.08" font-size="5.7" fill="#222" stroke="#222" stroke-width="0.1" text-anchor="end" textLength="11.100000000000001" lengthAdjust="spacingAndGlyphs">120</text>
<line x1="164.00" y1="220.71" x2="166.20" y2="220.71" stroke="#111" stroke-width="0.8" />
<text x="160.90" y="222.71" font-size="5.7" fill="#222" stroke="#222" stroke-width="0.1" text-anchor="end" textLength="11.100000000000001" lengthAdjust="spacingAndGlyphs">140</text>
<line x1="164.00" y1="213.34" x2="166.20" y2="213.34" stroke="#111" stroke-width="0.8" />
<text x="160.90" y="215.34" font-size="5.7" fill="#222" stroke="#222" stroke-width="0.1" text-anchor="end" textLength="11.100000000000001" lengthAdjust="spacingAndGlyphs">160</text>
<line x1="164.00" y1="205.97" x2="166.20" y2="205.97" stroke="#111" stroke-width="0.8" />
<text x="160.90" y="207.97" font-size="5.7" fill="#222" stroke="#222" stroke-width="0.1" text-anchor="end" textLength="11.100000000000001" lengthAdjust="spacingAndGlyphs">180</text>
<line x1="164.00" y1="198.60" x2="166.20" y2="198.60" stroke="#111" stroke-width="0.8" />
<text x="160.90" y="200.60" font-size="5.7" fill="#222" stroke="#222" stroke-width="0.1" text-anchor="end" textLength="11.100000000000001" lengthAdjust="spacingAndGlyphs">200</text>
<line x1="164.00" y1="191.23" x2="166.20" y2="191.23" stroke="#111" stroke-width="0.8" />
<text x="160.90" y="193.23" font-size="5.7" fill="#222" stroke="#222" stroke-width="0.1" text-anchor="end" textLength="11.100000000000001" lengthAdjust="spacingAndGlyphs">220</text>
<line x1="166.20" y1="272.30" x2="166.20" y2="274.30" stroke="#111" stroke-width="0.8" />
<text x="166.20" y="283.40" font-size="5.7" fill="#222" stroke="#222" stroke-width="0.1" text-anchor="middle" textLength="3.6" lengthAdjust="spacingAndGlyphs">0</text>
<line x1="182.40" y1="272.30" x2="182.40" y2="274.30" stroke="#111" stroke-width="0.8" />
<text x="182.40" y="283.40" font-size="5.7" fill="#222" stroke="#222" stroke-width="0.1" text-anchor="middle" textLength="3.6" lengthAdjust="spacingAndGlyphs">8</text>
<line x1="198.60" y1="272.30" x2="198.60" y2="274.30" stroke="#111" stroke-width="0.8" />
<text x="198.60" y="283.40" font-size="5.7" fill="#222" stroke="#222" stroke-width="0.1" text-anchor="middle" textLength="7.2" lengthAdjust="spacingAndGlyphs">16</text>
<line x1="214.80" y1="272.30" x2="214.80" y2="274.30" stroke="#111" stroke-width="0.8" />
<text x="214.80" y="283.40" font-size="5.7" fill="#222" stroke="#222" stroke-width="0.1" text-anchor="middle" textLength="7.2" lengthAdjust="spacingAndGlyphs">24</text>
<line x1="231.00" y1="272.30" x2="231.00" y2="274.30" stroke="#111" stroke-width="0.8" />
<text x="231.00" y="283.40" font-size="5.7" fill="#222" stroke="#222" stroke-width="0.1" text-anchor="middle" textLength="7.2" lengthAdjust="spacingAndGlyphs">32</text>
<line x1="247.20" y1="272.30" x2="247.20" y2="274.30" stroke="#111" stroke-width="0.8" />
<text x="247.20" y="283.40" font-size="5.7" fill="#222" stroke="#222" stroke-width="0.1" text-anchor="middle" textLength="7.2" lengthAdjust="spacingAndGlyphs">40</text>
<line x1="263.40" y1="272.30" x2="263.40" y2="274.30" stroke="#111" stroke-width="0.8" />
<text x="263.40" y="283.40" font-size="5.7" fill="#222" stroke="#222" stroke-width="0.1" text-anchor="middle" textLength="7.2" lengthAdjust="spacingAndGlyphs">48</text>
<text x="188.75" y="183.00" font-size="8.2" fill="#222" stroke="#222" stroke-width="0.1" textLength="55.0" lengthAdjust="spacingAndGlyphs">IL4/15/21-BMF</text>
<text x="203.40" y="294.80" font-size="7.9" fill="#222" font-weight="bold" textLength="25.9" lengthAdjust="spacingAndGlyphs">Time (hrs)</text>
<line x1="168.80" y1="194.50" x2="171.00" y2="194.50" stroke="#2f4e74" stroke-width="0.8" />
<text x="175.20" y="196.40" font-size="6.2" fill="#222" stroke="#222" stroke-width="0.1" textLength="25.9" lengthAdjust="spacingAndGlyphs">IL4/15/21</text>
<line x1="168.80" y1="201.50" x2="171.00" y2="201.50" stroke="#c8c8c8" stroke-width="0.8" />
<text x="175.20" y="203.80" font-size="6.2" fill="#2a2a2a" stroke="#2a2a2a" stroke-width="0.1" textLength="34.0" lengthAdjust="spacingAndGlyphs">BMF Control</text>
<polyline points="176.32,255.35 214.80,254.61 263.40,257.56" stroke="#d6d6de" stroke-width="0.75" fill="none" />
<rect x="175.52" y="254.55" width="1.60" height="1.60" fill="#b4b4bc" />
<rect x="214.00" y="253.81" width="1.60" height="1.60" fill="#b4b4bc" />
<rect x="262.60" y="256.76" width="1.60" height="1.60" fill="#b4b4bc" />
<polyline points="176.32,267.88 198.60,267.88 214.80,266.40 263.40,267.88" stroke="#d6d6de" stroke-width="0.75" fill="none" />
<rect x="175.52" y="267.08" width="1.60" height="1.60" fill="#b4b4bc" />
<rect x="197.80" y="267.08" width="1.60" height="1.60" fill="#b4b4bc" />
<rect x="214.00" y="265.60" width="1.60" height="1.60" fill="#b4b4bc" />
<rect x="262.60" y="267.08" width="1.60" height="1.60" fill="#b4b4bc" />
<polyline points="177.22,263.42 215.70,213.30 264.30,249.23" stroke="#98bfe6" stroke-width="0.8" fill="none" stroke-linejoin="round"/>
<polyline points="177.22,265.41 199.50,237.40 215.70,238.80 264.30,250.15" stroke="#98bfe6" stroke-width="0.8" fill="none" stroke-linejoin="round"/>
<polyline points="177.22,267.91 199.50,260.66 215.70,255.05 264.30,261.94" stroke="#98bfe6" stroke-width="0.8" fill="none" stroke-linejoin="round"/>
<polyline points="177.22,267.91 199.50,260.84 215.70,257.89 264.30,262.68" stroke="#98bfe6" stroke-width="0.8" fill="none" stroke-linejoin="round"/>
<polyline points="176.32,262.72 214.80,212.60 263.40,248.53" stroke="#2f4e74" stroke-width="0.7" fill="none" stroke-linejoin="round"/>
<polyline points="176.32,264.71 198.60,236.70 214.80,238.10 263.40,249.45" stroke="#2f4e74" stroke-width="0.7" fill="none" stroke-linejoin="round"/>
<polyline points="176.32,267.21 198.60,259.96 214.80,254.35 263.40,261.25" stroke="#2f4e74" stroke-width="0.7" fill="none" stroke-linejoin="round"/>
<polyline points="176.32,267.21 198.60,260.14 214.80,257.19 263.40,261.98" stroke="#2f4e74" stroke-width="0.7" fill="none" stroke-linejoin="round"/>
<circle cx="176.32" cy="262.72" r="1.3" fill="#1d3f66" />
<circle cx="214.80" cy="212.60" r="1.3" fill="#1d3f66" />
<circle cx="263.40" cy="248.53" r="1.3" fill="#1d3f66" />
<circle cx="176.32" cy="264.71" r="1.3" fill="#1d3f66" />
<circle cx="198.60" cy="236.70" r="1.3" fill="#1d3f66" />
<circle cx="214.80" cy="238.10" r="1.3" fill="#1d3f66" />
<circle cx="263.40" cy="249.45" r="1.3" fill="#1d3f66" />
<circle cx="176.32" cy="267.21" r="1.3" fill="#1d3f66" />
<circle cx="198.60" cy="259.96" r="1.3" fill="#1d3f66" />
<circle cx="214.80" cy="254.35" r="1.3" fill="#1d3f66" />
<circle cx="263.40" cy="261.25" r="1.3" fill="#1d3f66" />
<circle cx="176.32" cy="267.21" r="1.3" fill="#1d3f66" />
<circle cx="198.60" cy="260.14" r="1.3" fill="#1d3f66" />
<circle cx="214.80" cy="257.19" r="1.3" fill="#1d3f66" />
<circle cx="263.40" cy="261.98" r="1.3" fill="#1d3f66" />
<line x1="289.50" y1="188.43" x2="289.50" y2="272.90" stroke="#111" stroke-width="1.1" />
<line x1="288.90" y1="272.30" x2="389.50" y2="272.30" stroke="#111" stroke-width="1.1" />
<line x1="287.30" y1="272.30" x2="289.50" y2="272.30" stroke="#111" stroke-width="0.8" />
<text x="284.20" y="274.30" font-size="5.7" fill="#222" stroke="#222" stroke-width="0.1" text-anchor="end" textLength="3.7" lengthAdjust="spacingAndGlyphs">0</text>
<line x1="287.30" y1="264.93" x2="289.50" y2="264.93" stroke="#111" stroke-width="0.8" />
<text x="284.20" y="266.93" font-size="5.7" fill="#222" stroke="#222" stroke-width="0.1" text-anchor="end" textLength="7.4" lengthAdjust="spacingAndGlyphs">20</text>
<line x1="287.30" y1="257.56" x2="289.50" y2="257.56" stroke="#111" stroke-width="0.8" />
<text x="284.20" y="259.56" font-size="5.7" fill="#222" stroke="#222" stroke-width="0.1" text-anchor="end" textLength="7.4" lengthAdjust="spacingAndGlyphs">40</text>
<line x1="287.30" y1="250.19" x2="289.50" y2="250.19" stroke="#111" stroke-width="0.8" />
<text x="284.20" y="252.19" font-size="5.7" fill="#222" stroke="#222" stroke-width="0.1" text-anchor="end" textLength="7.4" lengthAdjust="spacingAndGlyphs">60</text>
<line x1="287.30" y1="242.82" x2="289.50" y2="242.82" stroke="#111" stroke-width="0.8" />
<text x="284.20" y="244.82" font-size="5.7" fill="#222" stroke="#222" stroke-width="0.1" text-anchor="end" textLength="7.4" lengthAdjust="spacingAndGlyphs">80</text>
<line x1="287.30" y1="235.45" x2="289.50" y2="235.45" stroke="#111" stroke-width="0.8" />
<text x="284.20" y="237.45" font-size="5.7" fill="#222" stroke="#222" stroke-width="0.1" text-anchor="end" textLength="11.100000000000001" lengthAdjust="spacingAndGlyphs">100</text>
<line x1="287.30" y1="228.08" x2="289.50" y2="228.08" stroke="#111" stroke-width="0.8" />
<text x="284.20" y="230.08" font-size="5.7" fill="#222" stroke="#222" stroke-width="0.1" text-anchor="end" textLength="11.100000000000001" lengthAdjust="spacingAndGlyphs">120</text>
<line x1="287.30" y1="220.71" x2="289.50" y2="220.71" stroke="#111" stroke-width="0.8" />
<text x="284.20" y="222.71" font-size="5.7" fill="#222" stroke="#222" stroke-width="0.1" text-anchor="end" textLength="11.100000000000001" lengthAdjust="spacingAndGlyphs">140</text>
<line x1="287.30" y1="213.34" x2="289.50" y2="213.34" stroke="#111" stroke-width="0.8" />
<text x="284.20" y="215.34" font-size="5.7" fill="#222" stroke="#222" stroke-width="0.1" text-anchor="end" textLength="11.100000000000001" lengthAdjust="spacingAndGlyphs">160</text>
<line x1="287.30" y1="205.97" x2="289.50" y2="205.97" stroke="#111" stroke-width="0.8" />
<text x="284.20" y="207.97" font-size="5.7" fill="#222" stroke="#222" stroke-width="0.1" text-anchor="end" textLength="11.100000000000001" lengthAdjust="spacingAndGlyphs">180</text>
<line x1="287.30" y1="198.60" x2="289.50" y2="198.60" stroke="#111" stroke-width="0.8" />
<text x="284.20" y="200.60" font-size="5.7" fill="#222" stroke="#222" stroke-width="0.1" text-anchor="end" textLength="11.100000000000001" lengthAdjust="spacingAndGlyphs">200</text>
<line x1="287.30" y1="191.23" x2="289.50" y2="191.23" stroke="#111" stroke-width="0.8" />
<text x="284.20" y="193.23" font-size="5.7" fill="#222" stroke="#222" stroke-width="0.1" text-anchor="end" textLength="11.100000000000001" lengthAdjust="spacingAndGlyphs">220</text>
<line x1="289.50" y1="272.30" x2="289.50" y2="274.30" stroke="#111" stroke-width="0.8" />
<text x="289.50" y="283.40" font-size="5.7" fill="#222" stroke="#222" stroke-width="0.1" text-anchor="middle" textLength="3.6" lengthAdjust="spacingAndGlyphs">0</text>
<line x1="305.70" y1="272.30" x2="305.70" y2="274.30" stroke="#111" stroke-width="0.8" />
<text x="305.70" y="283.40" font-size="5.7" fill="#222" stroke="#222" stroke-width="0.1" text-anchor="middle" textLength="3.6" lengthAdjust="spacingAndGlyphs">8</text>
<line x1="321.90" y1="272.30" x2="321.90" y2="274.30" stroke="#111" stroke-width="0.8" />
<text x="321.90" y="283.40" font-size="5.7" fill="#222" stroke="#222" stroke-width="0.1" text-anchor="middle" textLength="7.2" lengthAdjust="spacingAndGlyphs">16</text>
<line x1="338.10" y1="272.30" x2="338.10" y2="274.30" stroke="#111" stroke-width="0.8" />
<text x="338.10" y="283.40" font-size="5.7" fill="#222" stroke="#222" stroke-width="0.1" text-anchor="middle" textLength="7.2" lengthAdjust="spacingAndGlyphs">24</text>
<line x1="354.30" y1="272.30" x2="354.30" y2="274.30" stroke="#111" stroke-width="0.8" />
<text x="354.30" y="283.40" font-size="5.7" fill="#222" stroke="#222" stroke-width="0.1" text-anchor="middle" textLength="7.2" lengthAdjust="spacingAndGlyphs">32</text>
<line x1="370.50" y1="272.30" x2="370.50" y2="274.30" stroke="#111" stroke-width="0.8" />
<text x="370.50" y="283.40" font-size="5.7" fill="#222" stroke="#222" stroke-width="0.1" text-anchor="middle" textLength="7.2" lengthAdjust="spacingAndGlyphs">40</text>
<line x1="386.70" y1="272.30" x2="386.70" y2="274.30" stroke="#111" stroke-width="0.8" />
<text x="386.70" y="283.40" font-size="5.7" fill="#222" stroke="#222" stroke-width="0.1" text-anchor="middle" textLength="7.2" lengthAdjust="spacingAndGlyphs">48</text>
<text x="307.80" y="183.00" font-size="8.2" fill="#222" stroke="#222" stroke-width="0.1" textLength="64.89999999999998" lengthAdjust="spacingAndGlyphs">BAFF/APRIL-BMF</text>
<text x="326.70" y="294.80" font-size="7.9" fill="#222" font-weight="bold" textLength="25.9" lengthAdjust="spacingAndGlyphs">Time (hrs)</text>
<line x1="292.80" y1="194.10" x2="295.00" y2="194.10" stroke="#3fa850" stroke-width="0.8" />
<text x="299.70" y="195.90" font-size="6.2" fill="#222" stroke="#222" stroke-width="0.1" textLength="33.2" lengthAdjust="spacingAndGlyphs">BAFF/APRIL</text>
<line x1="292.80" y1="201.10" x2="295.00" y2="201.10" stroke="#c8c8c8" stroke-width="0.8" />
<text x="299.70" y="202.90" font-size="6.2" fill="#2a2a2a" stroke="#2a2a2a" stroke-width="0.1" textLength="34.0" lengthAdjust="spacingAndGlyphs">BMF Control</text>
<polyline points="299.62,257.56 338.10,253.88 386.70,261.98" stroke="#d6d6de" stroke-width="0.75" fill="none" />
<rect x="298.82" y="256.76" width="1.60" height="1.60" fill="#b4b4bc" />
<rect x="337.30" y="253.07" width="1.60" height="1.60" fill="#b4b4bc" />
<rect x="385.90" y="261.18" width="1.60" height="1.60" fill="#b4b4bc" />
<polyline points="299.62,268.62 321.90,267.88 338.10,265.67 386.70,267.88" stroke="#d6d6de" stroke-width="0.75" fill="none" />
<rect x="298.82" y="267.81" width="1.60" height="1.60" fill="#b4b4bc" />
<rect x="321.10" y="267.08" width="1.60" height="1.60" fill="#b4b4bc" />
<rect x="337.30" y="264.87" width="1.60" height="1.60" fill="#b4b4bc" />
<rect x="385.90" y="267.08" width="1.60" height="1.60" fill="#b4b4bc" />
<polyline points="299.62,256.90 338.10,203.39 386.70,248.42" stroke="#3fa850" stroke-width="0.85" fill="none" stroke-linejoin="round"/>
<polyline points="299.62,262.20 321.90,241.79 338.10,235.89 386.70,254.76" stroke="#3fa850" stroke-width="0.85" fill="none" stroke-linejoin="round"/>
<polyline points="299.62,266.18 338.10,227.34 386.70,260.99" stroke="#3fa850" stroke-width="0.85" fill="none" stroke-linejoin="round"/>
<polyline points="299.62,267.14 321.90,247.61 338.10,239.39 386.70,247.24" stroke="#3fa850" stroke-width="0.85" fill="none" stroke-linejoin="round"/>
<circle cx="299.62" cy="256.90" r="1.2" fill="#2f7f3c" />
<circle cx="338.10" cy="203.39" r="1.2" fill="#2f7f3c" />
<circle cx="386.70" cy="248.42" r="1.2" fill="#2f7f3c" />
<circle cx="299.62" cy="262.20" r="1.2" fill="#2f7f3c" />
<circle cx="321.90" cy="241.79" r="1.2" fill="#2f7f3c" />
<circle cx="338.10" cy="235.89" r="1.2" fill="#2f7f3c" />
<circle cx="386.70" cy="254.76" r="1.2" fill="#2f7f3c" />
<circle cx="299.62" cy="266.18" r="1.2" fill="#2f7f3c" />
<circle cx="338.10" cy="227.34" r="1.2" fill="#2f7f3c" />
<circle cx="386.70" cy="260.99" r="1.2" fill="#2f7f3c" />
<circle cx="299.62" cy="267.14" r="1.2" fill="#2f7f3c" />
<circle cx="321.90" cy="247.61" r="1.2" fill="#2f7f3c" />
<circle cx="338.10" cy="239.39" r="1.2" fill="#2f7f3c" />
<circle cx="386.70" cy="247.24" r="1.2" fill="#2f7f3c" />
<line x1="413.30" y1="188.43" x2="413.30" y2="272.90" stroke="#111" stroke-width="1.1" />
<line x1="412.70" y1="272.30" x2="513.30" y2="272.30" stroke="#111" stroke-width="1.1" />
<line x1="411.10" y1="272.30" x2="413.30" y2="272.30" stroke="#111" stroke-width="0.8" />
<text x="408.00" y="274.30" font-size="5.7" fill="#222" stroke="#222" stroke-width="0.1" text-anchor="end" textLength="3.7" lengthAdjust="spacingAndGlyphs">0</text>
<line x1="411.10" y1="264.93" x2="413.30" y2="264.93" stroke="#111" stroke-width="0.8" />
<text x="408.00" y="266.93" font-size="5.7" fill="#222" stroke="#222" stroke-width="0.1" text-anchor="end" textLength="7.4" lengthAdjust="spacingAndGlyphs">20</text>
<line x1="411.10" y1="257.56" x2="413.30" y2="257.56" stroke="#111" stroke-width="0.8" />
<text x="408.00" y="259.56" font-size="5.7" fill="#222" stroke="#222" stroke-width="0.1" text-anchor="end" textLength="7.4" lengthAdjust="spacingAndGlyphs">40</text>
<line x1="411.10" y1="250.19" x2="413.30" y2="250.19" stroke="#111" stroke-width="0.8" />
<text x="408.00" y="252.19" font-size="5.7" fill="#222" stroke="#222" stroke-width="0.1" text-anchor="end" textLength="7.4" lengthAdjust="spacingAndGlyphs">60</text>
<line x1="411.10" y1="242.82" x2="413.30" y2="242.82" stroke="#111" stroke-width="0.8" />
<text x="408.00" y="244.82" font-size="5.7" fill="#222" stroke="#222" stroke-width="0.1" text-anchor="end" textLength="7.4" lengthAdjust="spacingAndGlyphs">80</text>
<line x1="411.10" y1="235.45" x2="413.30" y2="235.45" stroke="#111" stroke-width="0.8" />
<text x="408.00" y="237.45" font-size="5.7" fill="#222" stroke="#222" stroke-width="0.1" text-anchor="end" textLength="11.100000000000001" lengthAdjust="spacingAndGlyphs">100</text>
<line x1="411.10" y1="228.08" x2="413.30" y2="228.08" stroke="#111" stroke-width="0.8" />
<text x="408.00" y="230.08" font-size="5.7" fill="#222" stroke="#222" stroke-width="0.1" text-anchor="end" textLength="11.100000000000001" lengthAdjust="spacingAndGlyphs">120</text>
<line x1="411.10" y1="220.71" x2="413.30" y2="220.71" stroke="#111" stroke-width="0.8" />
<text x="408.00" y="222.71" font-size="5.7" fill="#222" stroke="#222" stroke-width="0.1" text-anchor="end" textLength="11.100000000000001" lengthAdjust="spacingAndGlyphs">140</text>
<line x1="411.10" y1="213.34" x2="413.30" y2="213.34" stroke="#111" stroke-width="0.8" />
<text x="408.00" y="215.34" font-size="5.7" fill="#222" stroke="#222" stroke-width="0.1" text-anchor="end" textLength="11.100000000000001" lengthAdjust="spacingAndGlyphs">160</text>
<line x1="411.10" y1="205.97" x2="413.30" y2="205.97" stroke="#111" stroke-width="0.8" />
<text x="408.00" y="207.97" font-size="5.7" fill="#222" stroke="#222" stroke-width="0.1" text-anchor="end" textLength="11.100000000000001" lengthAdjust="spacingAndGlyphs">180</text>
<line x1="411.10" y1="198.60" x2="413.30" y2="198.60" stroke="#111" stroke-width="0.8" />
<text x="408.00" y="200.60" font-size="5.7" fill="#222" stroke="#222" stroke-width="0.1" text-anchor="end" textLength="11.100000000000001" lengthAdjust="spacingAndGlyphs">200</text>
<line x1="411.10" y1="191.23" x2="413.30" y2="191.23" stroke="#111" stroke-width="0.8" />
<text x="408.00" y="193.23" font-size="5.7" fill="#222" stroke="#222" stroke-width="0.1" text-anchor="end" textLength="11.100000000000001" lengthAdjust="spacingAndGlyphs">220</text>
<line x1="413.30" y1="272.30" x2="413.30" y2="274.30" stroke="#111" stroke-width="0.8" />
<text x="413.30" y="283.40" font-size="5.7" fill="#222" stroke="#222" stroke-width="0.1" text-anchor="middle" textLength="3.6" lengthAdjust="spacingAndGlyphs">0</text>
<line x1="429.50" y1="272.30" x2="429.50" y2="274.30" stroke="#111" stroke-width="0.8" />
<text x="429.50" y="283.40" font-size="5.7" fill="#222" stroke="#222" stroke-width="0.1" text-anchor="middle" textLength="3.6" lengthAdjust="spacingAndGlyphs">8</text>
<line x1="445.70" y1="272.30" x2="445.70" y2="274.30" stroke="#111" stroke-width="0.8" />
<text x="445.70" y="283.40" font-size="5.7" fill="#222" stroke="#222" stroke-width="0.1" text-anchor="middle" textLength="7.2" lengthAdjust="spacingAndGlyphs">16</text>
<line x1="461.90" y1="272.30" x2="461.90" y2="274.30" stroke="#111" stroke-width="0.8" />
<text x="461.90" y="283.40" font-size="5.7" fill="#222" stroke="#222" stroke-width="0.1" text-anchor="middle" textLength="7.2" lengthAdjust="spacingAndGlyphs">24</text>
<line x1="478.10" y1="272.30" x2="478.10" y2="274.30" stroke="#111" stroke-width="0.8" />
<text x="478.10" y="283.40" font-size="5.7" fill="#222" stroke="#222" stroke-width="0.1" text-anchor="middle" textLength="7.2" lengthAdjust="spacingAndGlyphs">32</text>
<line x1="494.30" y1="272.30" x2="494.30" y2="274.30" stroke="#111" stroke-width="0.8" />
<text x="494.30" y="283.40" font-size="5.7" fill="#222" stroke="#222" stroke-width="0.1" text-anchor="middle" textLength="7.2" lengthAdjust="spacingAndGlyphs">40</text>
<line x1="510.50" y1="272.30" x2="510.50" y2="274.30" stroke="#111" stroke-width="0.8" />
<text x="510.50" y="283.40" font-size="5.7" fill="#222" stroke="#222" stroke-width="0.1" text-anchor="middle" textLength="7.2" lengthAdjust="spacingAndGlyphs">48</text>
<text x="431.90" y="183.00" font-size="8.2" fill="#222" stroke="#222" stroke-width="0.1" textLength="62.5" lengthAdjust="spacingAndGlyphs">CXCL12/13-BMF</text>
<text x="450.50" y="294.80" font-size="7.9" fill="#222" font-weight="bold" textLength="25.9" lengthAdjust="spacingAndGlyphs">Time (hrs)</text>
<line x1="415.30" y1="193.40" x2="417.50" y2="193.40" stroke="#eb9a1c" stroke-width="0.8" />
<text x="421.80" y="195.50" font-size="6.2" fill="#222" stroke="#222" stroke-width="0.1" textLength="34.1" lengthAdjust="spacingAndGlyphs">CXCL 12/13</text>
<line x1="415.30" y1="200.40" x2="417.50" y2="200.40" stroke="#c8c8c8" stroke-width="0.8" />
<text x="421.80" y="201.90" font-size="6.2" fill="#2a2a2a" stroke="#2a2a2a" stroke-width="0.1" textLength="34.0" lengthAdjust="spacingAndGlyphs">BMF Control</text>
<polyline points="423.43,257.56 461.90,253.88 510.50,261.25" stroke="#d6d6de" stroke-width="0.75" fill="none" />
<rect x="422.62" y="256.76" width="1.60" height="1.60" fill="#b4b4bc" />
<rect x="461.10" y="253.07" width="1.60" height="1.60" fill="#b4b4bc" />
<rect x="509.70" y="260.44" width="1.60" height="1.60" fill="#b4b4bc" />
<polyline points="423.43,268.62 445.70,267.88 461.90,266.40 510.50,267.88" stroke="#d6d6de" stroke-width="0.75" fill="none" />
<rect x="422.62" y="267.81" width="1.60" height="1.60" fill="#b4b4bc" />
<rect x="444.90" y="267.08" width="1.60" height="1.60" fill="#b4b4bc" />
<rect x="461.10" y="265.60" width="1.60" height="1.60" fill="#b4b4bc" />
<rect x="509.70" y="267.08" width="1.60" height="1.60" fill="#b4b4bc" />
<polyline points="423.43,255.94 461.90,194.92 510.50,245.22" stroke="#eb9a1c" stroke-width="0.85" fill="none" stroke-linejoin="round"/>
<polyline points="423.43,260.51 445.70,232.98 461.90,219.24 510.50,257.74" stroke="#eb9a1c" stroke-width="0.85" fill="none" stroke-linejoin="round"/>
<polyline points="423.43,265.19 445.70,233.98 461.90,225.50 510.50,245.22" stroke="#eb9a1c" stroke-width="0.85" fill="none" stroke-linejoin="round"/>
<polyline points="423.43,266.70 461.90,231.40 510.50,262.17" stroke="#eb9a1c" stroke-width="0.85" fill="none" stroke-linejoin="round"/>
<circle cx="423.43" cy="255.94" r="1.2" fill="#d9850f" />
<circle cx="461.90" cy="194.92" r="1.2" fill="#d9850f" />
<circle cx="510.50" cy="245.22" r="1.2" fill="#d9850f" />
<circle cx="423.43" cy="260.51" r="1.2" fill="#d9850f" />
<circle cx="445.70" cy="232.98" r="1.2" fill="#d9850f" />
<circle cx="461.90" cy="219.24" r="1.2" fill="#d9850f" />
<circle cx="510.50" cy="257.74" r="1.2" fill="#d9850f" />
<circle cx="423.43" cy="265.19" r="1.2" fill="#d9850f" />
<circle cx="445.70" cy="233.98" r="1.2" fill="#d9850f" />
<circle cx="461.90" cy="225.50" r="1.2" fill="#d9850f" />
<circle cx="510.50" cy="245.22" r="1.2" fill="#d9850f" />
<circle cx="423.43" cy="266.70" r="1.2" fill="#d9850f" />
<circle cx="461.90" cy="231.40" r="1.2" fill="#d9850f" />
<circle cx="510.50" cy="262.17" r="1.2" fill="#d9850f" />
<text x="150.00" y="181.10" font-size="10.5" fill="#000" font-weight="bold" style="stroke:#000;stroke-width:0.35">b</text>
<text x="14.40" y="181.10" font-size="10.5" fill="#000" font-weight="bold" style="stroke:#000;stroke-width:0.35">a</text>
<text x="273.20" y="181.10" font-size="10.5" fill="#000" font-weight="bold" style="stroke:#000;stroke-width:0.35">c</text>
<text x="396.80" y="181.10" font-size="10.5" fill="#000" font-weight="bold" style="stroke:#000;stroke-width:0.35">d</text>
<text x="20.60" y="258.00" font-size="7.3" fill="#222" font-weight="bold" textLength="55.0" lengthAdjust="spacingAndGlyphs" transform="rotate(-90 20.60 258.00)">% of internalized cells</text>
<rect x="0.00" y="0.00" width="520.00" height="1.10" fill="#5e5e5e" />
<rect x="0.00" y="0.00" width="1.20" height="301.00" fill="#414141" />
<rect x="518.60" y="0.00" width="1.40" height="301.00" fill="#3a3a3a" />
<rect x="0.00" y="299.40" width="520.00" height="1.60" fill="#454545" />
</svg>
</body></html>
